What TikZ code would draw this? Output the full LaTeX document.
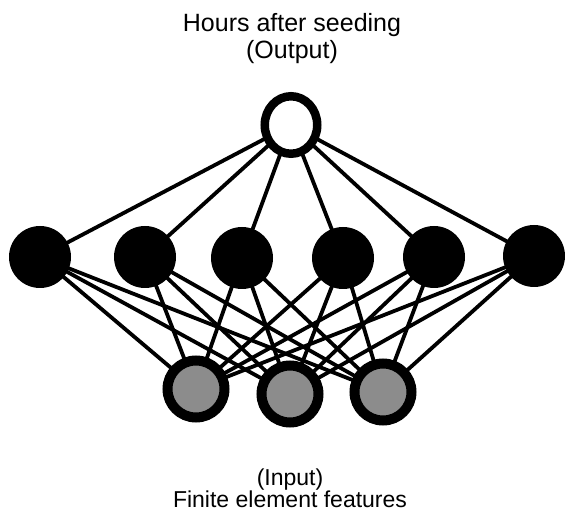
\documentclass[tikz,border=0pt]{standalone}
\usepackage{fontspec}
\setmainfont{Liberation Sans}
\usetikzlibrary{shapes.geometric}
\begin{document}
\begin{tikzpicture}[x=1pt,y=-1pt,
  edge/.style={line width=3.8pt},
  hid/.style={circle,fill=black,inner sep=0pt,minimum size=62pt},
  inp/.style={circle,draw=black,line width=10pt,fill=black!45,inner sep=0pt,minimum size=57pt},
  outp/.style={ellipse,draw=black,line width=8.5pt,fill=white,inner sep=0pt,minimum width=52.5pt,minimum height=57.5pt},
  lbl/.style={font=\fontsize{23}{27}\selectfont,inner sep=0pt,anchor=base},
  toplbl/.style={lbl,font=\fontsize{25}{29}\selectfont}]
\useasboundingbox (0,0) rectangle (565,521);
% coordinates
\coordinate (oc) at (291,125);
\coordinate (h1c) at (40,257);
\coordinate (h2c) at (145,257);
\coordinate (h3c) at (242,258);
\coordinate (h4c) at (343,258);
\coordinate (h5c) at (434,257);
\coordinate (h6c) at (534,256);
\coordinate (i1c) at (196,389);
\coordinate (i2c) at (290,394);
\coordinate (i3c) at (383,392);
% edges
\foreach \h in {1,...,6}{
  \draw[edge] (oc) -- (h\h c);
  \foreach \i in {1,2,3}{
    \draw[edge] (h\h c) -- (i\i c);
  }
}
% nodes
\node[outp] (o) at (oc) {};
\foreach \h in {1,...,6}{\node[hid] (h\h) at (h\h c) {};}
\foreach \i in {1,2,3}{\node[inp] (i\i) at (i\i c) {};}
% labels
\node[toplbl] (t1a) at (292,32) {Hours after seeding};
\node[toplbl] (t1b) at (292,59) {(Output)};
\node[lbl] (t2a) at (290,485) {(Input)};
\node[lbl] (t2b) at (290,507) {Finite element features};
\end{tikzpicture}
\end{document}
